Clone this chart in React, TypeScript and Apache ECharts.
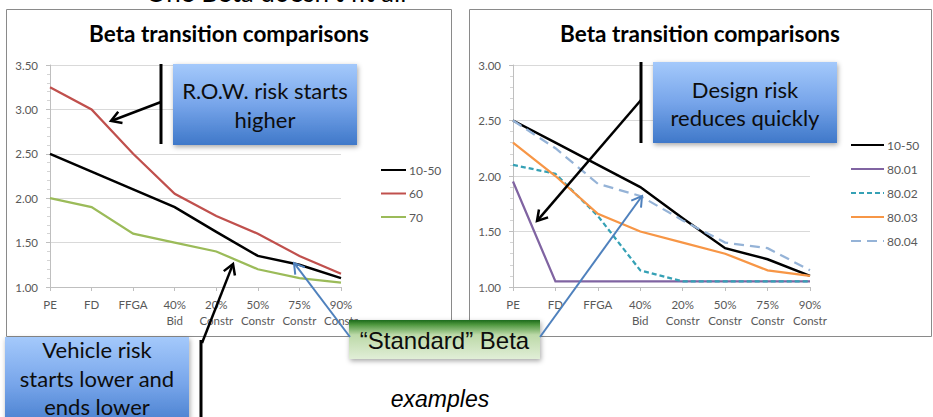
import React, { useEffect, useRef } from "react";
import * as echarts from "echarts";

// Project stages along the x axis
const stages = ["PE", "FD", "FFGA", "40%\nBid", "20%\nConstr", "50%\nConstr", "75%\nConstr", "90%\nConstr"];

// Beta values per stage
const beta1050 = [2.5, 2.3, 2.1, 1.9, 1.62, 1.35, 1.25, 1.1];
const beta60 = [3.25, 3.0, 2.5, 2.05, 1.8, 1.6, 1.35, 1.15];
const beta70 = [2.0, 1.9, 1.6, 1.5, 1.4, 1.2, 1.1, 1.05];
const beta8001 = [1.95, 1.05, 1.05, 1.05, 1.05, 1.05, 1.05, 1.05];
const beta8002 = [2.1, 2.02, 1.64, 1.15, 1.05, 1.05, 1.05, 1.05];
const beta8003 = [2.3, 2.0, 1.66, 1.5, 1.4, 1.3, 1.15, 1.1];
const beta8004 = [2.5, 2.25, 1.93, 1.82, 1.6, 1.4, 1.35, 1.15];

// Axis ranges
const leftRange = [1, 3.5];
const rightRange = [1, 3];
const yStep = 0.5;

const leftNames = ["10-50", "60", "70"];
const rightNames = ["10-50", "80.01", "80.02", "80.03", "80.04"];

const TITLE = "Beta transition comparisons";
const FONT = "Lato, 'Noto Sans', sans-serif";
const ARIAL = "'Liberation Sans', Arial, sans-serif";

function arrow(x1: number, y1: number, x2: number, y2: number, color: string, width: number, head: number) {
  const a = Math.atan2(y2 - y1, x2 - x1);
  const bx = x2 - head * Math.cos(a);
  const by = y2 - head * Math.sin(a);
  const hw = head * 0.6;
  const px = -Math.sin(a) * hw;
  const py = Math.cos(a) * hw;
  return [
    { type: "line", z: 120, shape: { x1, y1, x2: x2 - 1.5 * Math.cos(a), y2: y2 - 1.5 * Math.sin(a) }, style: { stroke: color, lineWidth: width } },
    {
      type: "polyline",
      z: 120,
      shape: { points: [[bx + px, by + py], [x2, y2], [bx - px, by - py]] },
      style: { stroke: color, lineWidth: width, fill: null, lineJoin: "miter" },
    },
  ];
}

function bar(x: number, y1: number, y2: number) {
  return { type: "line", z: 120, shape: { x1: x, y1, x2: x, y2 }, style: { stroke: "#000", lineWidth: 3 } };
}

const blueFill = {
  type: "linear",
  x: 0, y: 0, x2: 0, y2: 1,
  colorStops: [
    { offset: 0, color: "#a4c9fb" },
    { offset: 0.5, color: "#77a5ea" },
    { offset: 1, color: "#3f78c9" },
  ],
};

const greenFill = {
  type: "linear",
  x: 0, y: 0, x2: 0, y2: 1,
  colorStops: [
    { offset: 0, color: "#1c6a1c" },
    { offset: 0.12, color: "#4f983f" },
    { offset: 0.38, color: "#bcd9a8" },
    { offset: 1, color: "#e1eed7" },
  ],
};

function callout(x: number, y: number, w: number, h: number, fill: any, text: string, font: any) {
  return {
    type: "group",
    z: 110,
    children: [
      {
        type: "rect",
        z: 110,
        shape: { x, y, width: w, height: h },
        style: { fill, shadowBlur: 5, shadowColor: "rgba(0,0,0,0.35)", shadowOffsetX: 1, shadowOffsetY: 2 },
      },
      {
        type: "text",
        z: 111,
        x: x + w / 2,
        y: font.cy ?? y + h / 2,
        style: {
          text,
          fill: "#0d0d0d",
          align: "center",
          verticalAlign: "middle",
          fontFamily: font.family,
          fontSize: font.size,
          lineHeight: font.lineHeight,
        },
      },
    ],
  };
}

function axisPair(gridIndex: number, range: number[]) {
  const x = {
    type: "category",
    gridIndex,
    data: stages,
    boundaryGap: false,
    axisLine: { lineStyle: { color: "#bfbfbf", width: 1 } },
    axisTick: { show: true, length: 4, lineStyle: { color: "#bfbfbf" } },
    axisLabel: { interval: 0, color: "#595959", fontFamily: FONT, fontSize: 11.5, lineHeight: 16, margin: 9 },
    splitLine: { show: false },
  };
  const y = {
    type: "value",
    gridIndex,
    min: range[0],
    max: range[1],
    interval: yStep,
    axisLine: { show: true, lineStyle: { color: "#bfbfbf", width: 1 } },
    axisTick: { show: true, length: 4, lineStyle: { color: "#bfbfbf" } },
    minorTick: { show: true, splitNumber: 5, length: 3, lineStyle: { color: "#d4d4d4" } },
    splitLine: { show: true, lineStyle: { color: "#d9d9d9", width: 1 } },
    axisLabel: { color: "#595959", fontFamily: FONT, fontSize: 11.5, margin: 12, formatter: (v: number) => v.toFixed(2) },
  };
  return { x, y };
}

function line(name: string, data: number[], color: string, idx: number, width = 2.25, dash: any = "solid") {
  return {
    type: "line",
    name,
    data,
    xAxisIndex: idx,
    yAxisIndex: idx,
    symbol: "none",
    silent: true,
    lineStyle: { color, width, type: dash, cap: "butt", join: "miter" },
    itemStyle: { color },
    emphasis: { disabled: true },
  };
}

export default function App() {
  const ref = useRef<HTMLDivElement>(null);

  useEffect(() => {
    if (!ref.current) return;
    const chart = echarts.init(ref.current, undefined, { renderer: "svg" });
    const L = axisPair(0, leftRange);
    const R = axisPair(1, rightRange);

    const legendBase = {
      orient: "vertical",
      padding: 0,
      itemWidth: 25,
      itemHeight: 14,
      itemGap: 11.5,
      selectedMode: false,
      itemStyle: { opacity: 0 },
      textStyle: { color: "#595959", fontFamily: FONT, fontSize: 12, padding: [0, 0, 0, -2] },
    };

    const option: any = {
      animation: false,
      backgroundColor: "#ffffff",
      grid: [
        { left: 50, top: 65, width: 291, height: 222 },
        { left: 513, top: 65, width: 297, height: 222 },
      ],
      xAxis: [L.x, R.x],
      yAxis: [L.y, R.y],
      legend: [
        { ...legendBase, data: leftNames, left: 380, top: 164 },
        { ...legendBase, data: rightNames, left: 850, top: 139, itemWidth: 33, itemGap: 12 },
      ],
      series: [
        line("10-50", beta1050, "#000000", 0, 2.5),
        line("60", beta60, "#c0504d", 0),
        line("70", beta70, "#9bbb59", 0),
        line("10-50", beta1050, "#000000", 1, 2.5),
        line("80.01", beta8001, "#8064a2", 1),
        line("80.02", beta8002, "#35a1b5", 1, 2.25, [5, 3]),
        line("80.03", beta8003, "#f79646", 1),
        line("80.04", beta8004, "#95b3d7", 1, 2.25, [10, 6]),
      ],
      graphic: [
        // chart frames
        { type: "rect", z: 1, silent: true, shape: { x: 6.5, y: 9.5, width: 445, height: 327 }, style: { fill: null, stroke: "#8a8a8a", lineWidth: 1 } },
        { type: "rect", z: 1, silent: true, shape: { x: 469.5, y: 9.5, width: 462, height: 327 }, style: { fill: null, stroke: "#8a8a8a", lineWidth: 1 } },
        // heading above the charts
        {
          type: "text", z: 5, x: 276, y: -8,
          style: { text: "One Beta doesn\u2019t fit all", fill: "#000", align: "center", verticalAlign: "middle", fontFamily: FONT, fontSize: 26 },
        },
        // chart titles
        {
          type: "text", z: 5, x: 229, y: 33,
          style: { text: TITLE, fill: "#000", align: "center", verticalAlign: "middle", fontFamily: FONT, fontWeight: "bold", fontSize: 22.5 },
        },
        {
          type: "text", z: 5, x: 700, y: 33,
          style: { text: TITLE, fill: "#000", align: "center", verticalAlign: "middle", fontFamily: FONT, fontWeight: "bold", fontSize: 22.5 },
        },
        // callouts
        callout(173, 64, 184, 81, blueFill, "R.O.W. risk starts\nhigher", { family: FONT, size: 22, lineHeight: 29, cy: 105 }),
        callout(653, 62, 184, 81, blueFill, "Design risk\nreduces quickly", { family: FONT, size: 22, lineHeight: 28, cy: 103 }),
        callout(5, 337, 184, 95, blueFill, "Vehicle risk\nstarts lower and\nends lower", { family: FONT, size: 22, lineHeight: 28.5, cy: 378 }),
        callout(349, 320, 191, 39, greenFill, "\u201cStandard\u201d Beta", { family: ARIAL, size: 24, lineHeight: 28, cy: 340 }),
        // pointer bars and arrows
        bar(161, 64, 144),
        ...arrow(161, 102, 111, 121, "#000", 2.5, 10),
        bar(641, 62, 143),
        ...arrow(641, 100, 537, 221, "#000", 2.5, 10),
        bar(201, 340, 417),
        ...arrow(202, 343, 233, 264, "#000", 2.5, 10),
        ...arrow(350, 337, 294, 263, "#4f81bd", 2, 10),
        ...arrow(540, 337, 642, 196, "#4f81bd", 2, 10),
        // footer
        {
          type: "text", z: 5, x: 440, y: 399,
          style: { text: "examples", fill: "#000", align: "center", verticalAlign: "middle", fontFamily: ARIAL, fontStyle: "italic", fontSize: 23 },
        },
      ],
    };

    chart.setOption(option);
    return () => chart.dispose();
  }, []);

  return (
    <div
      ref={ref}
      style={{ position: "fixed", left: 0, top: 0, width: 933, height: 417, background: "#fff" }}
    />
  );
}
